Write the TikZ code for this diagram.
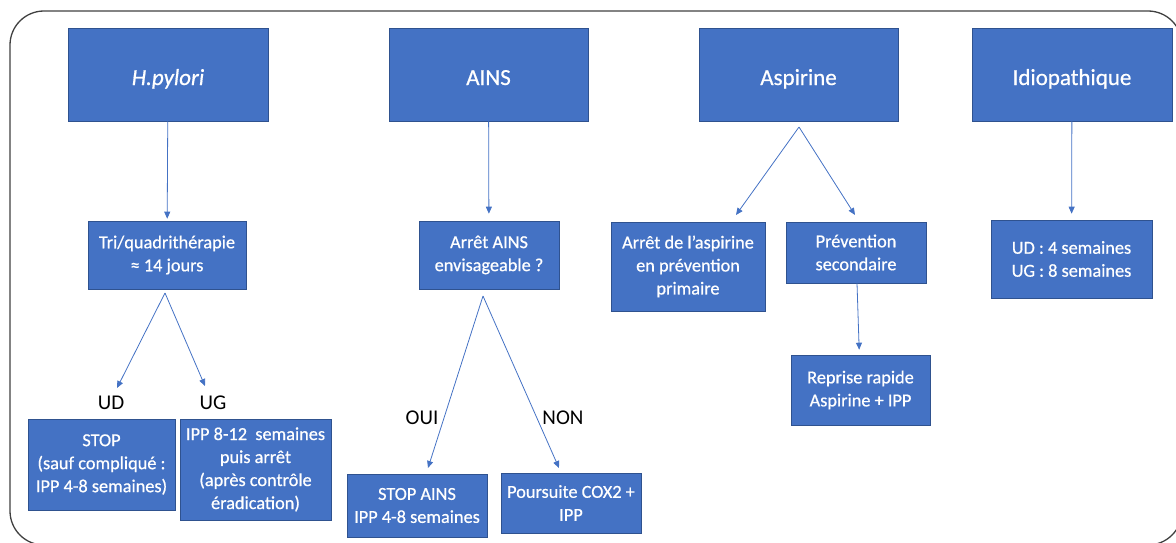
\documentclass[tikz,border=0pt]{standalone}
\usepackage{fontspec}
\setmainfont{Carlito}
\newfontfamily\boxfont{Carlito}[FakeBold=0.6]
\usetikzlibrary{arrows.meta}
\definecolor{boxblue}{HTML}{4472C4}
\definecolor{boxedge}{HTML}{2F528F}
\definecolor{framecol}{HTML}{404040}
\begin{document}
\begin{tikzpicture}[x=1pt,y=-1pt,
  bx/.style={draw=boxedge, line width=0.6pt, fill=boxblue, text=white, align=center, inner sep=0pt, font=\boxfont\fontsize{18.3}{23}\selectfont},
  topbox/.style={bx, minimum width=200pt, minimum height=93pt, text height=21pt, text depth=0pt, font=\boxfont\fontsize{23}{28}\selectfont},
  arr/.style={draw=boxblue, line width=0.8pt, -{Triangle[length=7pt,width=6pt]}},
  lab/.style={font=\fontsize{21}{25}\selectfont, text=black, inner sep=0pt}]
\useasboundingbox (0,0) rectangle (1176,543);
\begin{scope}
\clip (0,0) rectangle (1176,543);
\draw[framecol, line width=1.3pt, rounded corners=34pt] (10,11) rectangle (1182,545);
\end{scope}
% top boxes
\node[topbox] (hp) at (168,74.5) {\itshape H.pylori};
\node[topbox, minimum width=199pt] (ains) at (488.5,74.5) {AINS};
\node[topbox, minimum width=199pt] (asp) at (798.5,74.5) {Aspirine};
\node[topbox] (idio) at (1072,74.5) {Idiopathique};
% second level
\node[bx, minimum width=158pt, minimum height=68pt] (tri) at (167,255) {Tri/quadrithérapie\\≈ 14 jours};
\node[bx, minimum width=140pt, minimum height=68pt] (arret) at (489,255) {Arrêt AINS\\envisageable ?};
\node[bx, minimum width=154pt, minimum height=89pt] (arretasp) at (688,266.5) {Arrêt de l’aspirine\\en prévention\\primaire};
\node[bx, minimum width=140pt, minimum height=61pt] (prev) at (856,252.5) {Prévention\\secondaire};
\node[bx, minimum width=161pt, minimum height=78pt] (udug) at (1071.5,259) {UD : 4 semaines\\UG : 8 semaines};
% third level
\node[bx, minimum width=147pt, minimum height=91pt] (stop) at (101.5,464.5) {STOP\\(sauf compliqué :\\IPP 4-8 semaines)};
\node[bx, minimum width=151pt, minimum height=101pt] (ipp) at (255.5,469.5) {IPP 8-12~ semaines\\puis arrêt\\(après contrôle\\éradication)};
\node[bx, minimum width=140pt, minimum height=63pt] (stopains) at (417,505.5) {STOP AINS\\IPP 4-8 semaines};
\node[bx, minimum width=140pt, minimum height=60pt] (pours) at (571,503) {Poursuite COX2 +\\IPP};
\node[bx, minimum width=139pt, minimum height=70pt] (reprise) at (860.5,390) {Reprise rapide\\Aspirine + IPP};
% labels
\node[lab] (ud) at (111,403) {UD};
\node[lab] (ug) at (213,403) {UG};
\node[lab] (oui) at (422,418) {OUI};
\node[lab] (non) at (563,418) {NON};
% coordinates
\coordinate (triapex) at (165,293);
\coordinate (udend) at (117,388);
\coordinate (ugend) at (205,386);
\coordinate (arretapex) at (483,296);
\coordinate (ouiend) at (428,468);
\coordinate (nonend) at (559,468);
\coordinate (aspapex) at (799,127);
\coordinate (primend) at (736,215);
\coordinate (secend) at (855,215);
% connectors
\draw[arr, shorten >=2pt] (hp) -- (tri);
\draw[arr, shorten >=7pt] (ains) -- (arret);
\draw[arr, shorten >=6pt] (idio) -- (udug);
\draw[arr, shorten >=5pt] (prev) -- (reprise);
\draw[arr] (triapex) -- (udend);
\draw[arr] (triapex) -- (ugend);
\draw[arr] (arretapex) -- (ouiend);
\draw[arr] (arretapex) -- (nonend);
\draw[arr] (aspapex) -- (primend);
\draw[arr] (aspapex) -- (secend);
\end{tikzpicture}
\end{document}
